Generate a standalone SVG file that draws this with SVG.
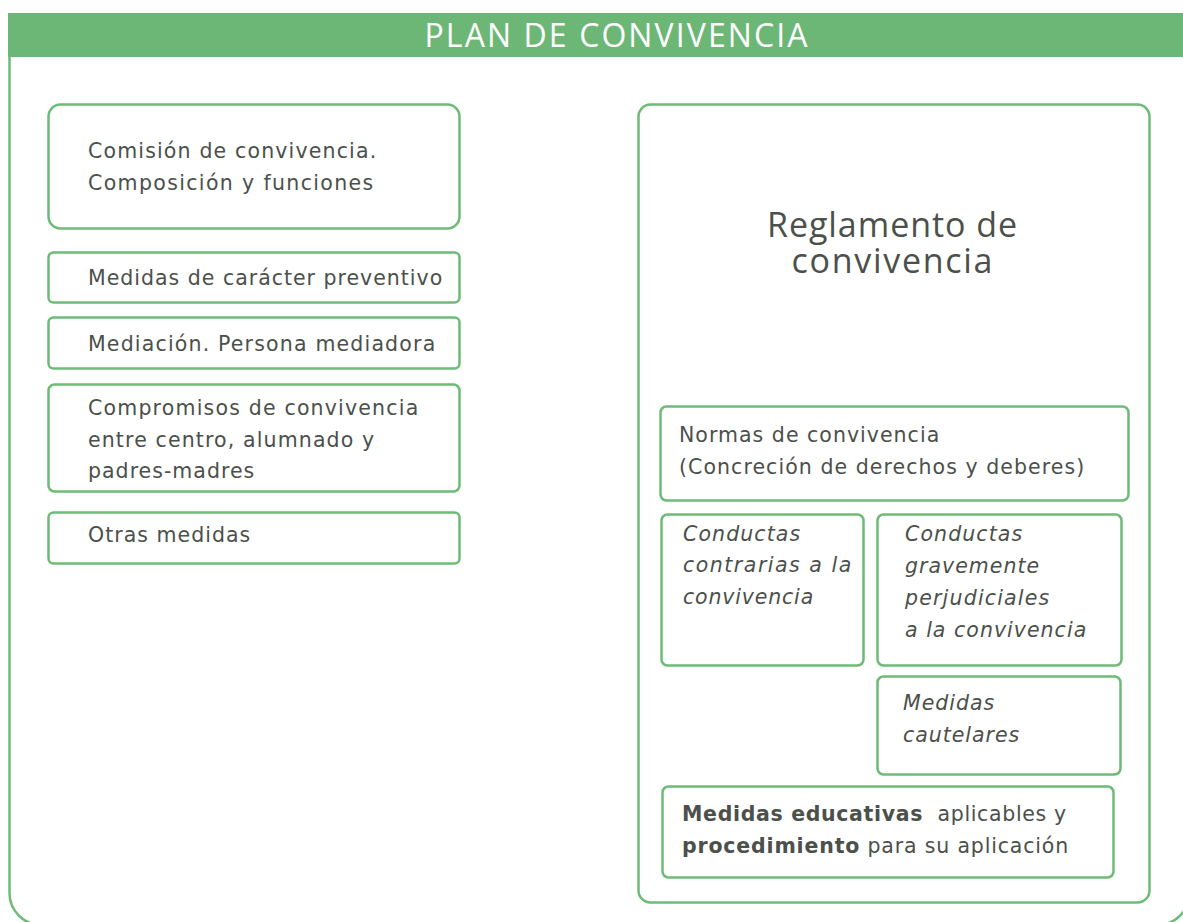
<svg xmlns="http://www.w3.org/2000/svg" width="1183" height="922" viewBox="0 0 1183 922">
<style>
.box{fill:#ffffff;stroke:#6dbb76;stroke-width:2.5}
.t{font-family:"DejaVu Sans","Open Sans",sans-serif;font-size:20.5px;fill:#4b504b;letter-spacing:0.8px}
.i{font-style:italic}
.b{font-weight:bold}
</style>
<rect width="1183" height="922" fill="#ffffff"/>
<g id="frame">
<rect x="9.5" y="25" width="1180" height="900" rx="32" fill="none" stroke="#6dbb76" stroke-width="2.5"/>
<rect x="8" y="13" width="1180" height="44" fill="#6db776"/>
<text x="616" y="47" text-anchor="middle" font-family="'Open Sans','DejaVu Sans',sans-serif" font-size="32" fill="#ffffff" textLength="383" lengthAdjust="spacing">PLAN DE CONVIVENCIA</text>
</g>
<g id="comision">
<rect class="box" x="48.5" y="104.5" width="411" height="124" rx="12"/>
<text class="t" x="88" y="158" textLength="289" lengthAdjust="spacing">Comisión de convivencia.</text>
<text class="t" x="88" y="190" textLength="286" lengthAdjust="spacing">Composición y funciones</text>
</g>
<g id="preventivo">
<rect class="box" x="48.5" y="252.5" width="411" height="50" rx="5"/>
<text class="t" x="88" y="285" textLength="355" lengthAdjust="spacing">Medidas de carácter preventivo</text>
</g>
<g id="mediacion">
<rect class="box" x="48.5" y="317.5" width="411" height="51" rx="5"/>
<text class="t" x="88" y="351" textLength="348" lengthAdjust="spacing">Mediación. Persona mediadora</text>
</g>
<g id="compromisos">
<rect class="box" x="48.5" y="384.5" width="411" height="107" rx="6"/>
<text class="t" x="88" y="415" textLength="331" lengthAdjust="spacing">Compromisos de convivencia</text>
<text class="t" x="88" y="447" textLength="287" lengthAdjust="spacing">entre centro, alumnado y</text>
<text class="t" x="88" y="478" textLength="167" lengthAdjust="spacing">padres-madres</text>
</g>
<g id="otras">
<rect class="box" x="48.5" y="512.5" width="411" height="51" rx="5"/>
<text class="t" x="88" y="542" textLength="163" lengthAdjust="spacing">Otras medidas</text>
</g>
<g id="reglamento">
<rect class="box" x="638.5" y="104.5" width="511" height="798" rx="12"/>
<text x="892" y="237" text-anchor="middle" font-family="'Open Sans','DejaVu Sans',sans-serif" font-size="34" fill="#4b504b" textLength="250" lengthAdjust="spacing">Reglamento de</text>
<text x="892" y="273" text-anchor="middle" font-family="'Open Sans','DejaVu Sans',sans-serif" font-size="34" fill="#4b504b" textLength="201" lengthAdjust="spacing">convivencia</text>
</g>
<g id="normas">
<rect class="box" x="660.5" y="406.5" width="468" height="94" rx="6"/>
<text class="t" x="679" y="442" textLength="261" lengthAdjust="spacing">Normas de convivencia</text>
<text class="t" x="679" y="474" textLength="406" lengthAdjust="spacing">(Concreción de derechos y deberes)</text>
</g>
<g id="contrarias">
<rect class="box" x="661.5" y="514.5" width="202" height="151" rx="6"/>
<text class="t i" x="683" y="541" textLength="118" lengthAdjust="spacing">Conductas</text>
<text class="t i" x="683" y="572" textLength="169" lengthAdjust="spacing">contrarias a la</text>
<text class="t i" x="683" y="604" textLength="131" lengthAdjust="spacing">convivencia</text>
</g>
<g id="graves">
<rect class="box" x="877.5" y="514.5" width="244" height="151" rx="6"/>
<text class="t i" x="905" y="541" textLength="118" lengthAdjust="spacing">Conductas</text>
<text class="t i" x="905" y="573" textLength="135" lengthAdjust="spacing">gravemente</text>
<text class="t i" x="905" y="605" textLength="145" lengthAdjust="spacing">perjudiciales</text>
<text class="t i" x="905" y="637" textLength="182" lengthAdjust="spacing">a la convivencia</text>
</g>
<g id="cautelares">
<rect class="box" x="877.5" y="676.5" width="243" height="98" rx="6"/>
<text class="t i" x="903" y="710" textLength="92" lengthAdjust="spacing">Medidas</text>
<text class="t i" x="903" y="742" textLength="117" lengthAdjust="spacing">cautelares</text>
</g>
<g id="educativas">
<rect class="box" x="662.5" y="786.5" width="451" height="91" rx="6"/>
<text class="t" x="682" y="821" textLength="385" lengthAdjust="spacing" xml:space="preserve"><tspan class="b">Medidas educativas</tspan>  aplicables y</text>
<text class="t" x="682" y="853" textLength="387" lengthAdjust="spacing"><tspan class="b">procedimiento</tspan> para su aplicación</text>
</g>
<g id="connectors"/>
</svg>
